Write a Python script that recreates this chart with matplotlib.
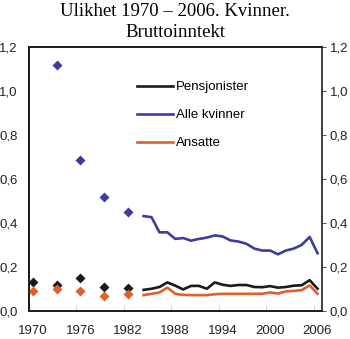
import numpy as np
import matplotlib
matplotlib.use("Agg")
import matplotlib.pyplot as plt

# survey years (diamonds) and annual series (lines)
early_years = [1970, 1973, 1976, 1979, 1982]
early_pensjonister = [0.132, 0.117, 0.148, 0.108, 0.102]
early_alle = [None, 1.12, 0.685, 0.519, 0.45]
early_ansatte = [0.090, 0.097, 0.090, 0.067, 0.076]

years = list(range(1984, 2007))
pensjonister = [0.095, 0.100, 0.108, 0.129, 0.114, 0.097, 0.113, 0.113, 0.100, 0.129,
                0.118, 0.113, 0.117, 0.117, 0.108, 0.107, 0.112, 0.105, 0.108, 0.114,
                0.116, 0.139, 0.100]
alle_kvinner = [0.431, 0.426, 0.357, 0.357, 0.327, 0.331, 0.319, 0.327, 0.333, 0.343,
                0.338, 0.320, 0.315, 0.305, 0.283, 0.274, 0.274, 0.257, 0.274, 0.283,
                0.300, 0.336, 0.262]
ansatte = [0.071, 0.077, 0.083, 0.105, 0.077, 0.072, 0.071, 0.071, 0.071, 0.075,
           0.077, 0.077, 0.077, 0.077, 0.077, 0.077, 0.083, 0.078, 0.088, 0.090,
           0.094, 0.115, 0.077]

xtick_years = [1970, 1976, 1982, 1988, 1994, 2000, 2006]
ytick_vals = [0.0, 0.2, 0.4, 0.6, 0.8, 1.0, 1.2]

BLACK = '#1a1a1a'
BLUE = '#3d3d9e'
ORANGE = '#e0602a'
FS = 9.5

fig = plt.figure(figsize=(3.5, 3.39), dpi=100)
ax = fig.add_axes([29 / 350, 1 - 310.7 / 339, (321.5 - 29) / 350, (310.7 - 47.3) / 339])

ax.plot(years, pensjonister, color=BLACK, lw=1.9, label='Pensjonister')
ax.plot(years, alle_kvinner, color=BLUE, lw=1.9, label='Alle kvinner')
ax.plot(years, ansatte, color=ORANGE, lw=1.9, label='Ansatte')

ey = np.array(early_years)
ax.plot(ey, early_pensjonister, 'D', color=BLACK, ms=5.5, mec='none')
ea = np.array([np.nan if v is None else v for v in early_alle])
ax.plot(ey, ea, 'D', color=BLUE, ms=5.5, mec='none')
ax.plot(ey, early_ansatte, 'D', color=ORANGE, ms=5.5, mec='none')

ax.set_xlim(1969.5, 2006.5)
ax.set_ylim(0, 1.2)

def fmt(v):
    return f'{v:.1f}'.replace('.', ',')

ax.set_xticks(xtick_years)
ax.set_xticklabels([str(y) for y in xtick_years], fontsize=FS, family='Liberation Sans', color='#222222')
ax.tick_params(axis='x', length=0, pad=10)
# faint category-boundary ticks
ax.set_xticks([y - 0.5 for y in xtick_years[1:]], minor=True)
ax.tick_params(axis='x', which='minor', direction='in', length=4, color='#cccccc')

ax.set_yticks(ytick_vals)
ax.set_yticklabels([fmt(v) for v in ytick_vals], fontsize=FS, family='Liberation Sans', color='#222222')
ax.tick_params(axis='y', length=0, pad=8)

ax2 = ax.twinx()
ax2.set_ylim(0, 1.2)
ax2.set_yticks(ytick_vals)
ax2.set_yticklabels([fmt(v) for v in ytick_vals], fontsize=FS, family='Liberation Sans', color='#222222')
ax2.tick_params(axis='y', length=3, direction='out', pad=3, color='#555555')

for a in (ax, ax2):
    for s in a.spines.values():
        s.set_linewidth(1.2)
        s.set_color(BLACK)
ax2.spines['right'].set_color('#444444')

leg = ax.legend(loc='upper left', bbox_to_anchor=(0.369, 0.872), frameon=False,
                prop={'family': 'Liberation Sans', 'size': FS},
                handlelength=2.7, handletextpad=0.25, labelspacing=1.2,
                borderpad=0, borderaxespad=0)

fig.text(0.5, 0.966, 'Ulikhet 1970 – 2006. Kvinner.', ha='center', va='center',
         family='Liberation Serif', fontsize=13.5)
fig.text(0.5, 0.903, 'Bruttoinntekt', ha='center', va='center',
         family='Liberation Serif', fontsize=13.5)

fig.savefig('out.png', dpi=100)
